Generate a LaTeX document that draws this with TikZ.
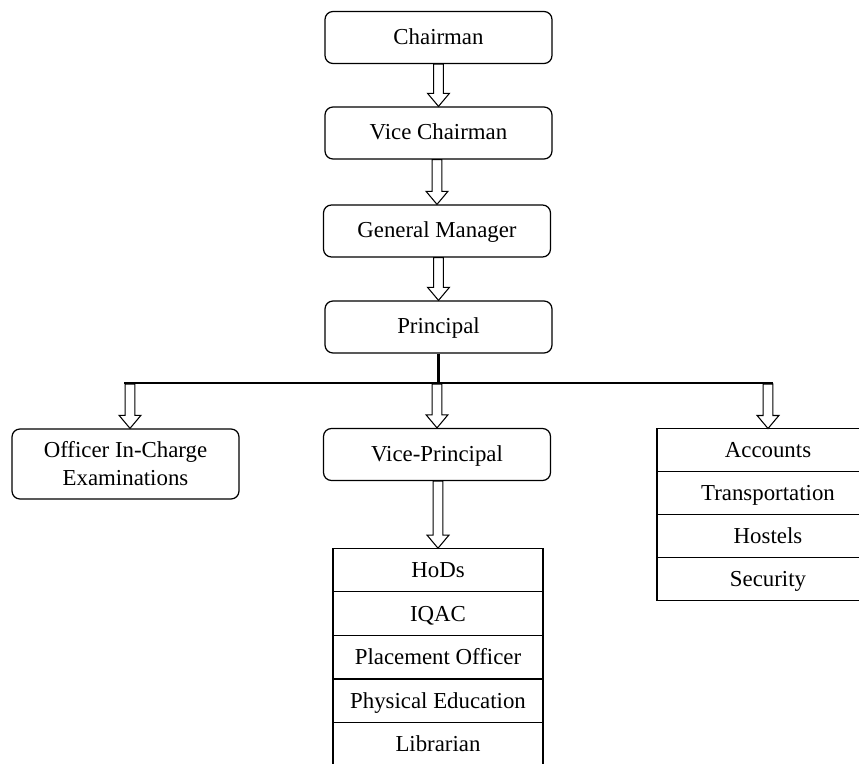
\documentclass[tikz,border=0pt]{standalone}
\usepackage{fontspec}
\setmainfont{Liberation Serif}
\usetikzlibrary{calc}

\newcommand{\hollowarrow}[2]{%
    \draw[hollow] let \p1=(#1), \p2=(#2) in
        ({\x2-2.8pt},\y1) -- ({\x2-2.8pt},{\y2+7.4pt}) -- ({\x2-6.2pt},{\y2+7.4pt})
        -- (\x2,\y2) -- ({\x2+6.2pt},{\y2+7.4pt}) -- ({\x2+2.8pt},{\y2+7.4pt})
        -- ({\x2+2.8pt},\y1) -- cycle;}

\begin{document}
\begin{tikzpicture}[x=0.02cm,y=-0.02cm]
        \tikzstyle{every node} = [font=\fontsize{13}{16}\selectfont]
        \tikzstyle{oneline} = [text height=8.6pt, text depth=1.2pt]
        \tikzstyle{post} = [draw, rounded corners=4.5pt, line width=0.7pt, minimum width=4.54cm, minimum height=1.04cm]
        \tikzstyle{cell} = [draw, text height=8.6pt, text depth=0pt, line width=0.7pt, outer sep=0pt]
        \tikzstyle{hollow} = [draw, fill=white, line width=0.6pt, line join=miter]
        \tikzstyle{bar} = [line width=1.7pt]
        \useasboundingbox (0,0) rectangle (859,764);
        % main line
        \node[post, oneline] (chair) at (438.5,37.5) {Chairman};
        \node[post, oneline] (vchair) at (438.5,133) {Vice Chairman};
        \node[post, oneline] (gm) at (437,231) {General Manager};
        \node[post, oneline] (prin) at (438.5,327) {Principal};
        \node[post, oneline] (vp) at (437,454.5) {Vice-Principal};
        \node[post, minimum height=1.4cm, align=center] (oic) at (125.5,464) {Officer In-Charge\\Examinations};
        % stacked boxes
        \foreach \name/\txt/\y in {hods/HoDs/570, iqac/IQAC/613.6, place/Placement Officer/657.2, phys/Physical Education/700.8, lib/Librarian/744.4}
            \node[cell, minimum width=4.2cm, minimum height=0.872cm] (\name) at (438,\y) {\txt};
        \foreach \name/\txt/\y in {acc/Accounts/450, trans/Transportation/493, host/Hostels/536, sec/Security/579}
            \node[cell, minimum width=4.44cm, minimum height=0.86cm] (\name) at (768,\y) {\txt};
        % branch bar
        \coordinate (bl) at (124,383);
        \coordinate (br) at (773,383);
        \coordinate (tl) at (130,384);
        \draw[bar] (bl) -- (br);
        \draw[bar] (prin.south) -- (prin.south |- bl);
        % arrows
        \foreach \from/\to in {chair/vchair, vchair/gm, gm/prin, vp/hods}
            {\hollowarrow{\from.south}{\to.north}}
        \hollowarrow{tl}{oic.north -| tl}
        \hollowarrow{tl}{vp.north}
        \hollowarrow{tl}{acc.north}
\end{tikzpicture}
\end{document}
